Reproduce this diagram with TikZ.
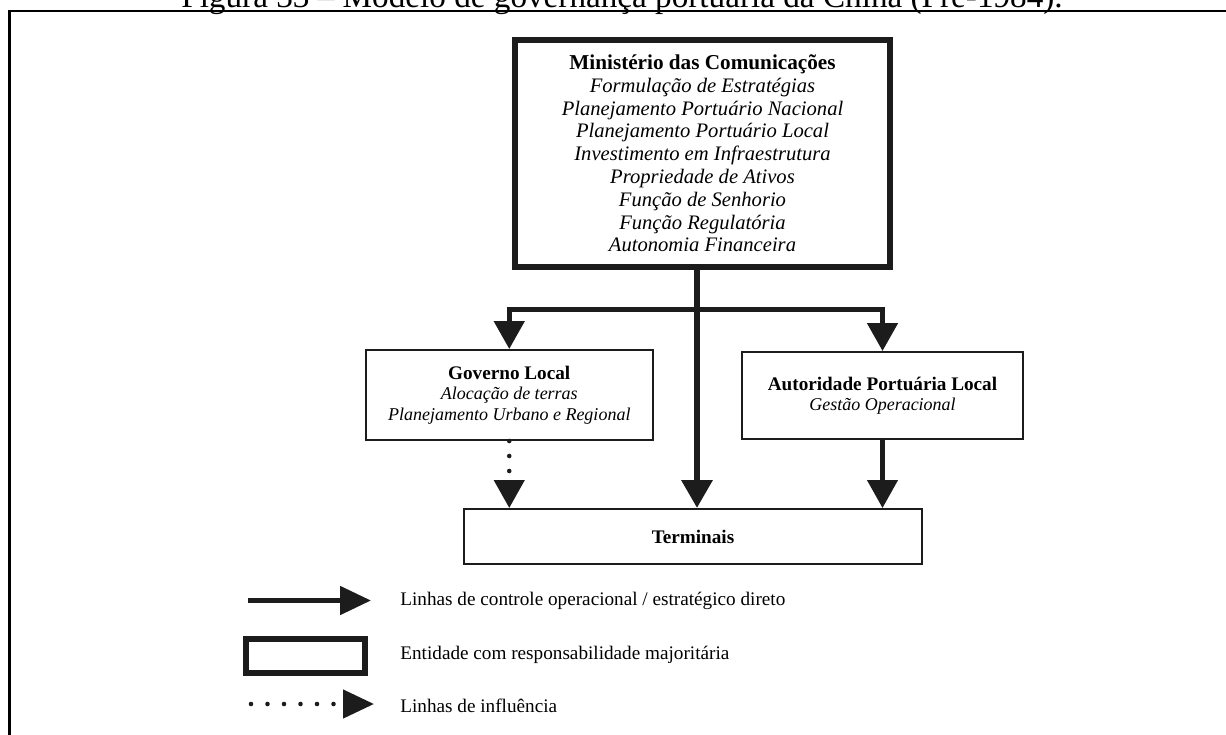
\documentclass[tikz,border=0pt]{standalone}
\usepackage{fontspec}
\setmainfont{Liberation Serif}
\usetikzlibrary{arrows.meta}
\definecolor{ink}{HTML}{1C1C1C}
\begin{document}
\begin{tikzpicture}[x=0.5pt,y=-0.5pt,
  bigbox/.style={draw=ink, line width=3pt, inner sep=0pt, align=center},
  smallbox/.style={draw=ink, line width=1pt, inner sep=0pt, align=center},
  head/.style={-{Triangle[length=14pt,width=15pt]}},
  lhead/.style={-{Triangle[length=15.5pt,width=14pt]}},
  ctrl/.style={draw=ink, line join=miter, fill=none},
  infl/.style={draw=ink, line width=2.3pt, line cap=round},
  mainfont/.style={font=\fontsize{10.3pt}{11.4pt}\selectfont\itshape},
  subfont/.style={font=\fontsize{9pt}{10.25pt}\selectfont\itshape},
  legtext/.style={anchor=west, inner sep=0pt, font=\fontsize{9.6pt}{11pt}\selectfont},
]
\useasboundingbox (0,0) rectangle (1226,734);
\clip (0,0) rectangle (1226,734);

% caption and page frame
\node[anchor=base, inner sep=0pt, font=\fontsize{16.6pt}{20pt}\selectfont] (title) at (622,7)
  {Figura 33 – Modelo de governança portuária da China (Pré-1984).};
\draw[line width=1.3pt, black] (9.5,760) -- (9.5,11) -- (1250,11);

% entities
\node[bigbox, mainfont, minimum width=187.5pt, minimum height=113.5pt] (main) at (702.5,153.5)
  {{\upshape\bfseries\fontsize{10.6pt}{11.4pt}\selectfont Ministério das Comunicações}\\
   Formulação de Estratégias\\
   Planejamento Portuário Nacional\\
   Planejamento Portuário Local\\
   Investimento em Infraestrutura\\
   Propriedade de Ativos\\
   Função de Senhorio\\
   Função Regulatória\\
   Autonomia Financeira};

\node[smallbox, subfont, minimum width=143.75pt, minimum height=45pt] (gov) at (509.25,395)
  {{\upshape\bfseries\fontsize{9.6pt}{10.25pt}\selectfont Governo Local}\\
   Alocação de terras\\
   Planejamento Urbano e Regional};

\node[smallbox, subfont, minimum width=140.5pt, minimum height=43.5pt] (aut) at (882.5,395.5)
  {{\upshape\bfseries\fontsize{9.6pt}{10.25pt}\selectfont Autoridade Portuária Local}\\
   Gestão Operacional};

\node[smallbox, font=\fontsize{9.6pt}{11pt}\selectfont\bfseries,
      minimum width=229pt, minimum height=27.5pt] (term) at (693,536.5) {Terminais};

% control lines
\coordinate (tk) at (697,0);
\coordinate (j) at (697,309.5);
\draw[ctrl, head, line width=3.2pt] (main.south -| tk) -- (term.north -| tk);
\draw[ctrl, head, line width=2.5pt] (j) -| (gov.north);
\draw[ctrl, head, line width=2.5pt] (j) -| (aut.north);
\draw[ctrl, head, line width=2.2pt] (aut.south) -- (aut.south |- term.north);

% influence line
\draw[infl, dash pattern=on 0pt off 7.5pt, head] (gov.south) -- (gov.south |- term.north);

% legend
\coordinate (l1s) at (248,600.5);
\coordinate (l1e) at (371,600.5);
\draw[ctrl, lhead, line width=2.5pt] (l1s) -- (l1e);
\node[legtext] (t1) at (400,601) {Linhas de controle operacional / estratégico direto};

\node[bigbox, minimum width=59.5pt, minimum height=17pt] (lbox) at (305.5,656) {};
\node[legtext] (t2) at (400,655) {Entidade com responsabilidade majoritária};

\coordinate (l3s) at (251,704);
\coordinate (l3e) at (374,704);
\draw[infl, dash pattern=on 0pt off 8.25pt, lhead] (l3s) -- (l3e);
\node[legtext] (t3) at (400,706) {Linhas de influência};
\end{tikzpicture}
\end{document}
